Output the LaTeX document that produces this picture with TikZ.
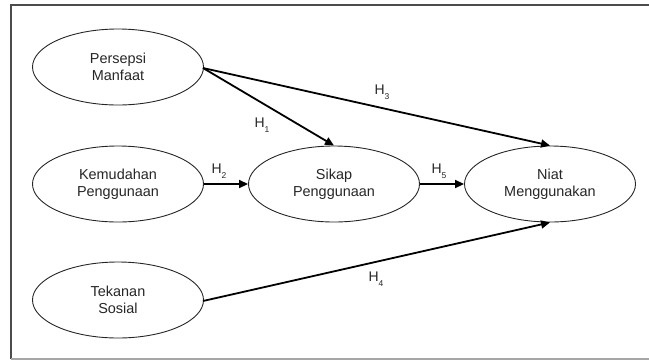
\documentclass[tikz,border=0pt]{standalone}
\usepackage{fontspec}
\setmainfont{Liberation Sans}
\usetikzlibrary{arrows.meta,shapes.geometric}
\newcommand{\hyp}[1]{H\raisebox{-4.5bp}{\fontsize{8.5}{8.5}\selectfont #1}}
\begin{document}
\begin{tikzpicture}[x=1bp,y=-1bp,
  construct/.style={draw=black!85, line width=0.9bp, ellipse, minimum width=171bp, minimum height=76bp, inner sep=0pt, align=center, font=\fontsize{14.5}{17.5}\selectfont, text=black!85},
  path arrow/.style={draw=black, line width=1.8bp, -{Triangle[length=9bp,width=8bp]}},
  hlabel/.style={font=\fontsize{14}{14}\selectfont, text=black!85, inner sep=0pt}]
\useasboundingbox (0,0) rectangle (649,360);
\draw[black!70, line width=1.2bp] (649,5) -- (11,5) -- (11,359);
\draw[black!35, line width=1.2bp] (11,359) -- (649,359);
\node[construct] (pm) at (118,67) {Persepsi\\Manfaat};
\node[construct] (kp) at (118,184) {Kemudahan\\Penggunaan};
\node[construct] (sp) at (334,184) {Sikap\\Penggunaan};
\node[construct] (nm) at (550,184) {Niat\\Menggunakan};
\node[construct] (ts) at (118,300) {Tekanan\\Sosial};
\coordinate (pmE) at (203,68);
\coordinate (tsE) at (203,301);
\draw[path arrow] (pmE) -- (sp.north);
\draw[path arrow] (pmE) -- (nm.north);
\draw[path arrow] (kp.east) -- (sp.west);
\draw[path arrow] (sp.east) -- (nm.west);
\draw[path arrow] (tsE) -- (nm.south);
\node[hlabel] (h1) at (262,125) {\hyp{1}};
\node[hlabel] (h2) at (219,171) {\hyp{2}};
\node[hlabel] (h3) at (382,92) {\hyp{3}};
\node[hlabel] (h5) at (439,171) {\hyp{5}};
\node[hlabel] (h4) at (376,279) {\hyp{4}};
\end{tikzpicture}
\end{document}
